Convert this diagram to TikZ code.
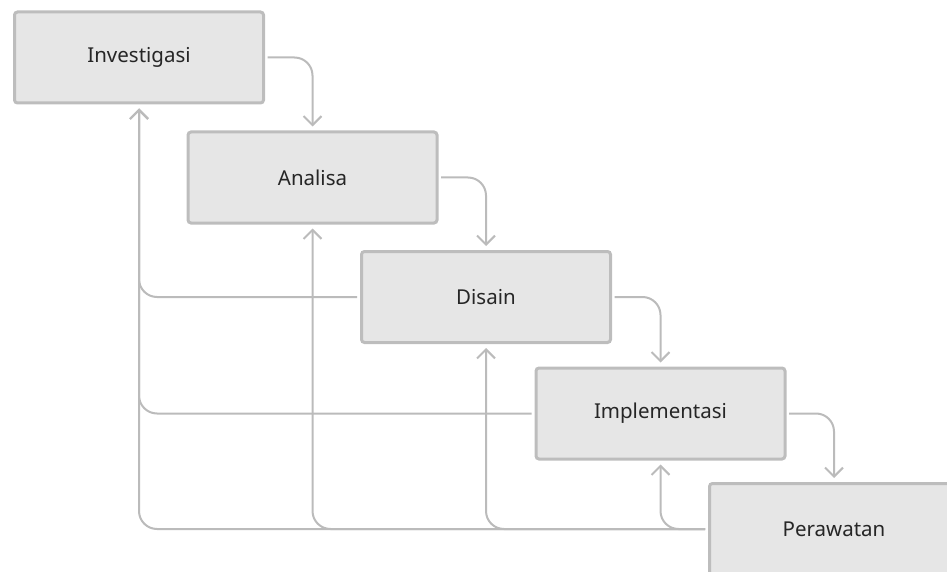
\documentclass[tikz,border=0pt]{standalone}
\usepackage{fontspec}
\setmainfont{Noto Sans}
\usetikzlibrary{arrows.meta}
\definecolor{boxline}{HTML}{BDBDBD}
\definecolor{boxfill}{HTML}{E6E6E6}
\definecolor{connc}{HTML}{BBBBBB}
\definecolor{textc}{HTML}{262626}
\begin{document}
\begin{tikzpicture}[x=1pt,y=-1pt,
  stage/.style={draw=boxline, fill=boxfill, line width=3pt, rounded corners=3pt,
    minimum width=249pt, minimum height=91pt, inner sep=0pt, outer sep=1.5pt,
    text=textc, font=\fontsize{20.5}{24}\selectfont},
  conn/.style={draw=connc, line width=2pt, rounded corners=18pt,
    -{Straight Barb[length=9pt,width=18pt,line width=2pt]}}
]
\useasboundingbox (0,0) rectangle (947,572);
\clip (0,0) rectangle (947,572);
\node[stage] (inv) at (139,57.5) {Investigasi};
\node[stage] (ana) at (312.5,177.5) {Analisa};
\node[stage] (dis) at (486,297) {Disain};
\node[stage] (imp) at (660.5,413.5) {Implementasi};
\node[stage] (per) at (834,529) {Perawatan};
% forward flow
\draw[conn, shorten >=4pt] ([xshift=2.5pt]inv.east) -| (ana.north);
\draw[conn, shorten >=4pt] ([xshift=2.5pt]ana.east) -| (dis.north);
\draw[conn, shorten >=4pt] ([xshift=2.5pt]dis.east) -| (imp.north);
\draw[conn, shorten >=4pt] ([xshift=2.5pt]imp.east) -| (per.north);
% feedback
\draw[conn, shorten >=4pt] ([xshift=-3pt]dis.west) -| (inv.south);
\draw[conn, shorten >=4pt] ([xshift=-3pt]imp.west) -| (inv.south);
\draw[conn, shorten >=4pt] ([xshift=-3pt]per.west) -| (inv.south);
\draw[conn, shorten >=4pt] ([xshift=-3pt]per.west) -| (ana.south);
\draw[conn, shorten >=4pt] ([xshift=-3pt]per.west) -| (dis.south);
\draw[conn, shorten >=4pt] ([xshift=-3pt]per.west) -| (imp.south);
\end{tikzpicture}
\end{document}
